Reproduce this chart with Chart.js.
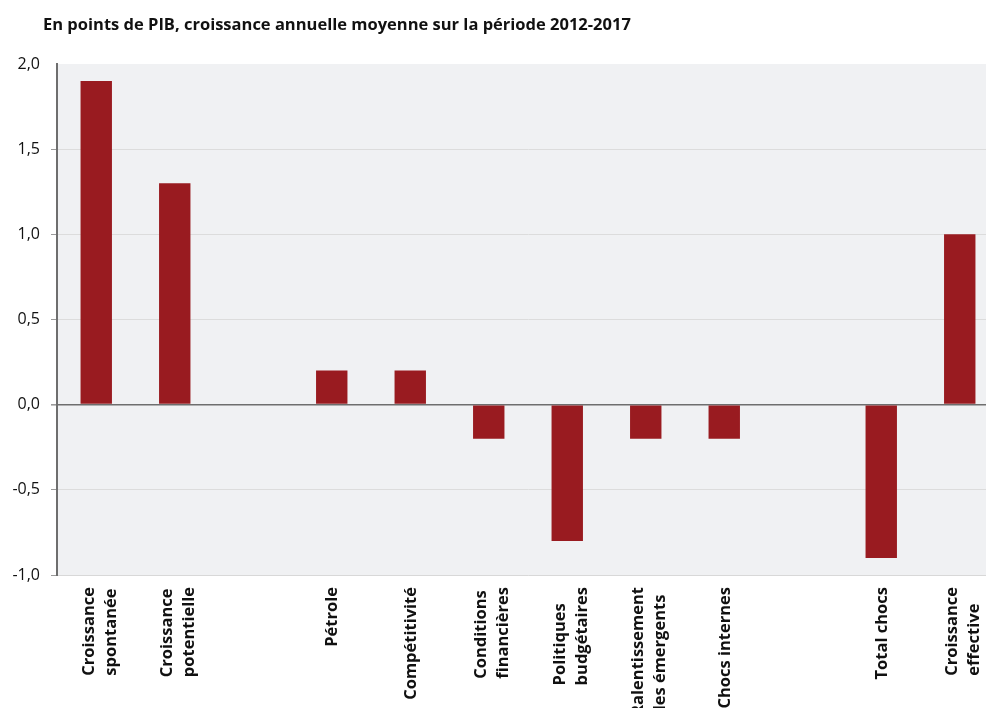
<!DOCTYPE html>
<html>
<head>
<meta charset="utf-8">
<script src="https://cdn.jsdelivr.net/npm/chart.js"></script>
<style>
  html, body { margin: 0; padding: 0; background: #ffffff; overflow: hidden; }
  #wrap { position: relative; width: 999px; height: 708px; }
</style>
</head>
<body>
<div id="wrap"><canvas id="c" width="999" height="708"></canvas></div>
<script>
const TITLE = "En points de PIB, croissance annuelle moyenne sur la période 2012-2017";
const categories = [
  ["Croissance", "spontanée"],
  ["Croissance", "potentielle"],
  [""],
  ["Pétrole"],
  ["Compétitivité"],
  ["Conditions", "financières"],
  ["Politiques", "budgétaires"],
  ["Ralentissement", "des émergents"],
  ["Chocs internes"],
  [""],
  ["Total chocs"],
  ["Croissance", "effective"]
];
const values = [1.9, 1.3, null, 0.2, 0.2, -0.2, -0.8, -0.2, -0.2, null, -0.9, 1.0];
const yTicks = [-1.0, -0.5, 0.0, 0.5, 1.0, 1.5, 2.0];

const FONT = "'Open Sans', 'Noto Sans', sans-serif";

const bgPlugin = {
  id: 'bg',
  beforeDraw(chart) {
    const {ctx, chartArea: a} = chart;
    ctx.save();
    ctx.fillStyle = '#f0f1f3';
    ctx.fillRect(a.left, a.top, a.right - a.left, a.bottom - a.top);
    ctx.restore();
  }
};

const textPlugin = {
  id: 'texts',
  afterDraw(chart) {
    const ctx = chart.ctx;
    const xs = chart.scales.x;
    ctx.save();
    // title
    ctx.fillStyle = '#111111';
    ctx.font = "bold 16.5px " + FONT;
    ctx.textAlign = 'left';
    ctx.textBaseline = 'middle';
    ctx.fillText(TITLE, 43, 25);
    // category labels, rotated
    ctx.font = "bold 16.5px " + FONT;
    const topY = chart.chartArea.bottom + 12;
    const lh = 22;
    categories.forEach((lines, i) => {
      const x = xs.getPixelForValue(i) + (lines.length > 1 ? 4 : 1);
      let maxW = 0;
      lines.forEach(l => { maxW = Math.max(maxW, ctx.measureText(l).width); });
      ctx.save();
      ctx.translate(x, topY + maxW);
      ctx.rotate(-Math.PI / 2);
      ctx.textAlign = 'left';
      ctx.textBaseline = 'middle';
      lines.forEach((l, j) => {
        ctx.fillText(l, 0, (j - (lines.length - 1) / 2) * lh);
      });
      ctx.restore();
    });
    ctx.restore();
  }
};

new Chart(document.getElementById('c'), {
  type: 'bar',
  data: {
    labels: categories,
    datasets: [{
      data: values,
      backgroundColor: '#991b20',
      borderWidth: 0,
      barPercentage: 0.4,
      categoryPercentage: 1.0
    }]
  },
  options: {
    responsive: false,
    animation: false,
    layout: { padding: { top: 64, right: 0, left: 0, bottom: 0 } },
    plugins: { legend: { display: false }, tooltip: { enabled: false } },
    scales: {
      x: {
        grid: { display: false, drawTicks: false },
        border: { display: true, color: '#d8d8d8', width: 1 },
        ticks: { display: false },
        afterFit(scale) { scale.height = 133; }
      },
      y: {
        min: -1.0,
        max: 2.0,
        afterBuildTicks(scale) { scale.ticks = yTicks.map(v => ({ value: v })); },
        afterFit(scale) { scale.width = 57; },
        border: { display: true, color: '#6e6e6e', width: 2 },
        grid: {
          color(ctx) {
            const v = ctx.tick && ctx.tick.value;
            if (v === 0) return '#6e6e6e';
            if (v === 2) return 'rgba(0,0,0,0)';
            return '#dcdcdc';
          },
          lineWidth(ctx) {
            const v = ctx.tick && ctx.tick.value;
            return v === 0 ? 1.6 : 1;
          },
          tickColor(ctx) {
            const v = ctx.tick && ctx.tick.value;
            return v === 2 ? 'rgba(0,0,0,0)' : '#9a9a9a';
          },
          tickLength: 6,
          drawOnChartArea: true
        },
        ticks: {
          padding: 11,
          color: '#111111',
          font: { family: FONT, size: 16 },
          callback(v) { return Number(v).toFixed(1).replace('.', ','); }
        }
      }
    }
  },
  plugins: [bgPlugin, textPlugin]
});
</script>
</body>
</html>
